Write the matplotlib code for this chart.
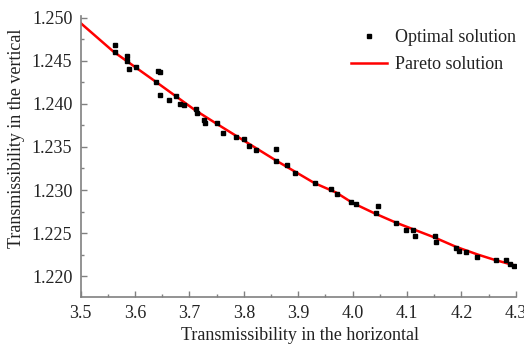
import matplotlib
matplotlib.use("Agg")
import matplotlib.pyplot as plt
from matplotlib.ticker import MultipleLocator, FormatStrFormatter

plt.rcParams["font.family"] = ["Liberation Serif", "DejaVu Serif"]

# optimal solutions (scatter)
opt_x = [3.564, 3.564, 3.585, 3.586, 3.589, 3.602, 3.642, 3.646, 3.638, 3.646,
         3.663, 3.675, 3.683, 3.690, 3.712, 3.714, 3.727, 3.729, 3.750, 3.762,
         3.786, 3.800, 3.810, 3.822, 3.859, 3.859, 3.880, 3.895, 3.931, 3.961,
         3.971, 3.997, 4.006, 4.047, 4.044, 4.080, 4.098, 4.111, 4.115, 4.151,
         4.153, 4.191, 4.195, 4.208, 4.228, 4.263, 4.283, 4.289, 4.297]
opt_y = [1.2469, 1.2461, 1.2456, 1.2450, 1.2441, 1.2443, 1.2438, 1.2437, 1.2426, 1.2411,
         1.2405, 1.2409, 1.2400, 1.2399, 1.2394, 1.2389, 1.2381, 1.2378, 1.2378, 1.2366,
         1.2362, 1.2359, 1.2351, 1.2347, 1.2348, 1.2334, 1.2329, 1.2320, 1.2308, 1.2301,
         1.2295, 1.2286, 1.2284, 1.2281, 1.2273, 1.2262, 1.2253, 1.2253, 1.2247, 1.2247,
         1.2240, 1.2232, 1.2229, 1.2228, 1.2222, 1.2219, 1.2219, 1.2214, 1.2212]

# pareto front (red curve)
par_x = [3.50, 3.56, 3.64, 3.71, 3.75, 3.86, 3.93, 3.97, 4.00, 4.04,
         4.08, 4.15, 4.19, 4.23, 4.26, 4.30]
par_y = [1.2494, 1.2461, 1.2425, 1.2393, 1.2377, 1.2334, 1.2308, 1.2297, 1.2285, 1.2273,
         1.2262, 1.2245, 1.2234, 1.2225, 1.2219, 1.2212]

txt = "#222222"
grey = "#808080"
fs = 13

fig = plt.figure(figsize=(5.24, 3.46), dpi=100)
ax = fig.add_axes([80.7 / 524, 1 - 297 / 346, 435 / 524, 281 / 346])

ax.plot(par_x, par_y, color="#ff0000", lw=1.8, label="Pareto solution", zorder=2)
ax.plot(opt_x, opt_y, "s", color="black", ms=3.3, ls="none",
        label="Optimal solution", zorder=3)

ax.set_xlim(3.5, 4.3)
ax.set_ylim(1.21756, 1.25023)
ax.xaxis.set_major_locator(MultipleLocator(0.1))
ax.xaxis.set_minor_locator(MultipleLocator(0.05))
ax.yaxis.set_major_locator(MultipleLocator(0.005))
ax.yaxis.set_minor_locator(MultipleLocator(0.0025))
ax.xaxis.set_major_formatter(FormatStrFormatter("%.1f"))
ax.yaxis.set_major_formatter(FormatStrFormatter("%.3f"))

for s in ["top", "right"]:
    ax.spines[s].set_visible(False)
for s in ["left", "bottom"]:
    ax.spines[s].set_color(grey)
    ax.spines[s].set_linewidth(1.2)

ax.tick_params(which="major", direction="in", length=4, width=1, color=grey,
               labelsize=fs, labelcolor=txt, pad=6)
ax.tick_params(which="minor", direction="in", length=2.5, width=1, color=grey)

fig.text(300 / 524, 1 - 336 / 346, "Transmissibility in the horizontal",
         ha="center", va="center", fontsize=fs, color=txt)
fig.text(17 / 524, 1 - 138 / 346, "Transmissibility in the vertical",
         ha="center", va="center", rotation=90, fontsize=fs, color=txt)

h, l = ax.get_legend_handles_labels()
leg = ax.legend(h[::-1], l[::-1], loc="upper left",
                bbox_to_anchor=(351 / 524, 1 - 29 / 346),
                bbox_transform=fig.transFigure, frameon=False, fontsize=fs,
                handlelength=2.0, handletextpad=0.45, labelspacing=0.55,
                borderpad=0, borderaxespad=0)
for t in leg.get_texts():
    t.set_color(txt)

fig.savefig("out.png", dpi=100)
